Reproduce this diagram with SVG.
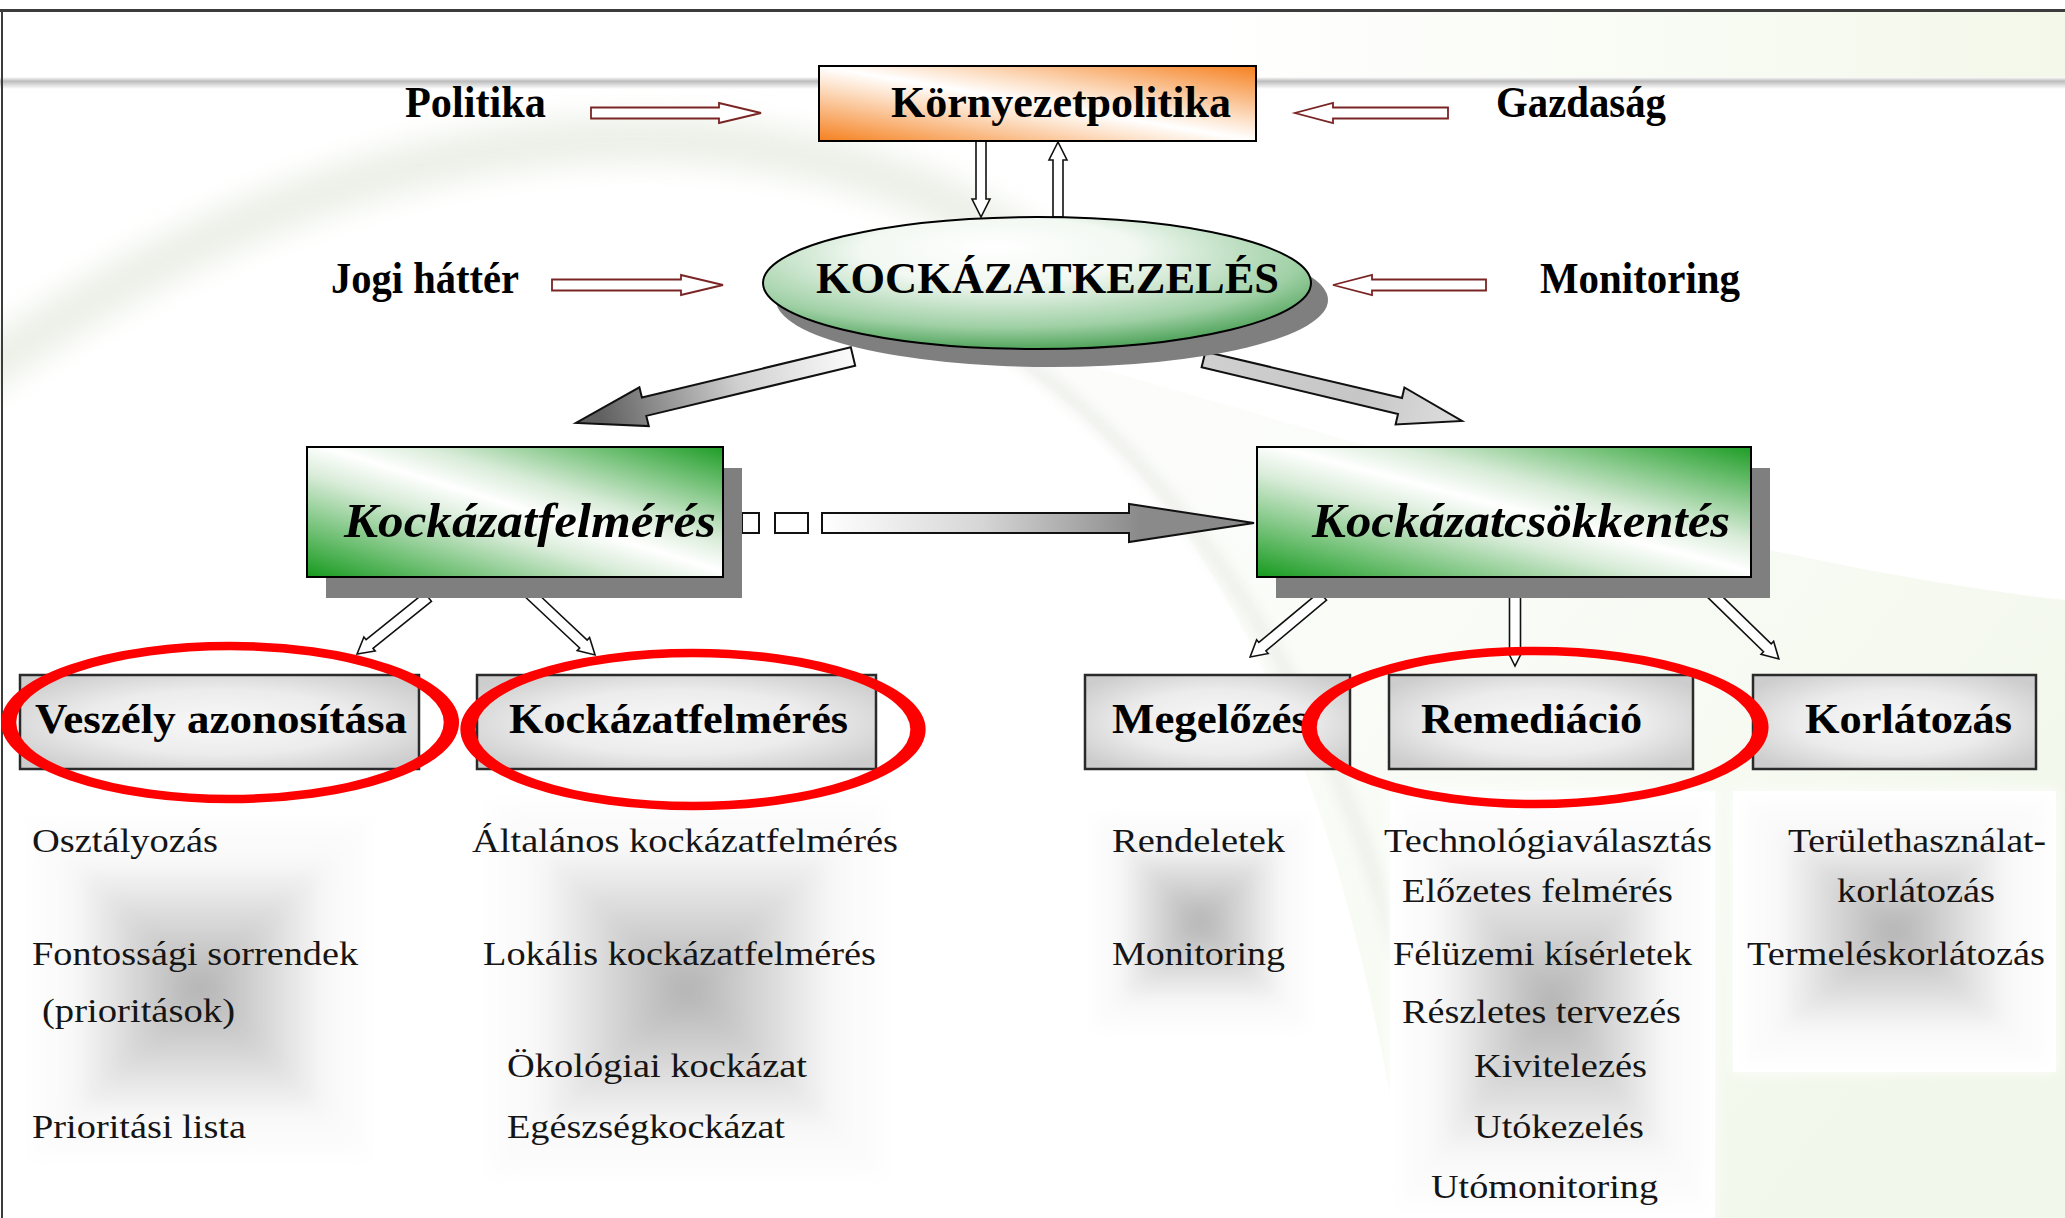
<svg xmlns="http://www.w3.org/2000/svg" width="2065" height="1218" viewBox="0 0 2065 1218">
  <defs>
    <style>
      .hd { font-family: "Liberation Serif", "Times New Roman", serif; font-weight: bold; font-size: 45px; fill: #000; }
      .big { font-family: "Liberation Serif", "Times New Roman", serif; font-weight: bold; font-style: italic; font-size: 48px; fill: #000; }
      .sub { font-family: "Liberation Serif", "Times New Roman", serif; font-weight: bold; font-size: 42px; fill: #000; }
      .li { font-family: "Liberation Serif", "Times New Roman", serif; font-size: 33px; fill: #151515; }
      .frame { stroke: #000; stroke-width: 2; }
      .subbox { fill: url(#gSub); stroke: #2a2a2a; stroke-width: 2.5; }
      .shadow { fill: #7f7f7f; }
      .thin { fill: #fff; stroke: #111; stroke-width: 1.6; stroke-linejoin: miter; }
      .side { fill: #fff; stroke: #7a2424; stroke-width: 1.8; }
      .ring { fill: none; stroke: #ff0000; stroke-width: 8.5; }
      .panel { fill: #fff; }
    </style>
    <linearGradient id="gOrange" x1="0" y1="1" x2="1" y2="0">
      <stop offset="0" stop-color="#f5801f"/>
      <stop offset="0.38" stop-color="#fde3cc"/>
      <stop offset="0.5" stop-color="#ffffff"/>
      <stop offset="0.62" stop-color="#fde3cc"/>
      <stop offset="1" stop-color="#f5801f"/>
    </linearGradient>
    <linearGradient id="gGreen" x1="0" y1="1" x2="1" y2="0">
      <stop offset="0" stop-color="#169a1e"/>
      <stop offset="0.4" stop-color="#d9ecd9"/>
      <stop offset="0.52" stop-color="#ffffff"/>
      <stop offset="0.64" stop-color="#d9ecd9"/>
      <stop offset="1" stop-color="#1e9d26"/>
    </linearGradient>
    <radialGradient id="gOval" cx="0.45" cy="0.32" r="0.72" fx="0.42" fy="0.22">
      <stop offset="0" stop-color="#ffffff"/>
      <stop offset="0.35" stop-color="#f2f8f2"/>
      <stop offset="0.75" stop-color="#9fd0a5"/>
      <stop offset="1" stop-color="#3f9a4b"/>
    </radialGradient>
    <radialGradient id="gSub" cx="0.5" cy="0.5" r="0.62">
      <stop offset="0" stop-color="#f8f8f8"/>
      <stop offset="0.55" stop-color="#ececec"/>
      <stop offset="1" stop-color="#cdcdcd"/>
    </radialGradient>
    <linearGradient id="gPanelT" x1="0" y1="0" x2="0" y2="1">
      <stop offset="0" stop-color="#fff"/>
      <stop offset="0.3" stop-color="#f8f8f8"/>
      <stop offset="1" stop-color="#b3b3b3"/>
    </linearGradient>
    <linearGradient id="gPanelB" x1="0" y1="1" x2="0" y2="0">
      <stop offset="0" stop-color="#fff"/>
      <stop offset="0.3" stop-color="#f8f8f8"/>
      <stop offset="1" stop-color="#b3b3b3"/>
    </linearGradient>
    <linearGradient id="gPanelL" x1="0" y1="0" x2="1" y2="0">
      <stop offset="0" stop-color="#fff"/>
      <stop offset="0.3" stop-color="#f8f8f8"/>
      <stop offset="1" stop-color="#b3b3b3"/>
    </linearGradient>
    <linearGradient id="gPanelR" x1="1" y1="0" x2="0" y2="0">
      <stop offset="0" stop-color="#fff"/>
      <stop offset="0.3" stop-color="#f8f8f8"/>
      <stop offset="1" stop-color="#b3b3b3"/>
    </linearGradient>
    <linearGradient id="gHeadLine" x1="0" y1="0" x2="0" y2="1">
      <stop offset="0" stop-color="#ffffff"/>
      <stop offset="0.35" stop-color="#bcbcbc"/>
      <stop offset="1" stop-color="#ffffff"/>
    </linearGradient>
    <linearGradient id="gHeadTint" x1="0" y1="0" x2="1" y2="0">
      <stop offset="0" stop-color="#ffffff"/>
      <stop offset="1" stop-color="#f3f8ea"/>
    </linearGradient>
    <linearGradient id="gHill" gradientUnits="userSpaceOnUse" x1="1100" y1="500" x2="1900" y2="1150">
      <stop offset="0" stop-color="#fcfdfb"/>
      <stop offset="0.5" stop-color="#f8fbf4"/>
      <stop offset="1" stop-color="#f1f7ea"/>
    </linearGradient>
    <linearGradient id="gLeftArrow" gradientUnits="userSpaceOnUse" x1="853" y1="356" x2="600" y2="418">
      <stop offset="0" stop-color="#fbfbfb"/>
      <stop offset="0.45" stop-color="#d0d0d0"/>
      <stop offset="1" stop-color="#606060"/>
    </linearGradient>
    <linearGradient id="gRightArrow" gradientUnits="userSpaceOnUse" x1="1203" y1="359" x2="1462" y2="421">
      <stop offset="0" stop-color="#d0d0d0"/>
      <stop offset="0.6" stop-color="#c6c6c6"/>
      <stop offset="1" stop-color="#dedede"/>
    </linearGradient>
    <linearGradient id="gStripe" gradientUnits="userSpaceOnUse" x1="822" y1="0" x2="1140" y2="0">
      <stop offset="0" stop-color="#ffffff"/>
      <stop offset="0.5" stop-color="#d6d6d6"/>
      <stop offset="1" stop-color="#8a8a8a"/>
    </linearGradient>
    <filter id="soft" x="-20%" y="-20%" width="140%" height="140%">
      <feGaussianBlur stdDeviation="7"/>
    </filter>
    <filter id="haze" x="-20%" y="-20%" width="140%" height="140%">
      <feGaussianBlur stdDeviation="14"/>
    </filter>
  </defs>

  <!-- page -->
  <rect x="0" y="0" width="2065" height="1218" fill="#fff"/>

  <!-- background swoosh -->
  <g id="background">
    <path d="M960,330 C1150,430 1330,650 1410,1218 L2065,1218 L2065,600 C1700,560 1300,420 960,330 Z" fill="url(#gHill)"/>
    <path d="M-30,380 C150,250 360,150 600,140 C820,132 990,200 1090,300" fill="none" stroke="#e6ebdf" stroke-width="46" opacity="0.75" filter="url(#haze)"/>
    <path d="M1000,345 C1160,450 1320,660 1400,960" fill="none" stroke="#e6e8e2" stroke-width="12" opacity="0.7" filter="url(#soft)"/>
    <rect x="1200" y="12" width="865" height="66" fill="url(#gHeadTint)"/>
    <rect x="0" y="77" width="2065" height="12" fill="url(#gHeadLine)"/>
    <line x1="0" y1="10.5" x2="2065" y2="10.5" stroke="#3c3c3c" stroke-width="3"/>
    <line x1="2" y1="10" x2="2" y2="1218" stroke="#3c3c3c" stroke-width="2"/>
  </g>

  <!-- text panels behind the lists -->
  <g id="panels">
    <rect class="panel" x="21" y="810" width="358" height="358"/>
    <g filter="url(#soft)">
      <polygon points="21,810 379,810 200,989" fill="url(#gPanelT)"/>
      <polygon points="21,1168 379,1168 200,989" fill="url(#gPanelB)"/>
      <polygon points="21,810 21,1168 200,989" fill="url(#gPanelL)"/>
      <polygon points="379,810 379,1168 200,989" fill="url(#gPanelR)"/>
    </g>
    <rect class="panel" x="477" y="790" width="420" height="398"/>
    <g filter="url(#soft)">
      <polygon points="477,790 897,790 687,989" fill="url(#gPanelT)"/>
      <polygon points="477,1188 897,1188 687,989" fill="url(#gPanelB)"/>
      <polygon points="477,790 477,1188 687,989" fill="url(#gPanelL)"/>
      <polygon points="897,790 897,1188 687,989" fill="url(#gPanelR)"/>
    </g>
    <rect class="panel" x="1085" y="808" width="231" height="229"/>
    <g filter="url(#soft)">
      <polygon points="1085,808 1316,808 1200,922" fill="url(#gPanelT)"/>
      <polygon points="1085,1037 1316,1037 1200,922" fill="url(#gPanelB)"/>
      <polygon points="1085,808 1085,1037 1200,922" fill="url(#gPanelL)"/>
      <polygon points="1316,808 1316,1037 1200,922" fill="url(#gPanelR)"/>
    </g>
    <rect class="panel" x="1390" y="791" width="325" height="427"/>
    <g filter="url(#soft)">
      <polygon points="1390,791 1715,791 1552,1004" fill="url(#gPanelT)"/>
      <polygon points="1390,1218 1715,1218 1552,1004" fill="url(#gPanelB)"/>
      <polygon points="1390,791 1390,1218 1552,1004" fill="url(#gPanelL)"/>
      <polygon points="1715,791 1715,1218 1552,1004" fill="url(#gPanelR)"/>
    </g>
    <rect class="panel" x="1733" y="791" width="323" height="281"/>
    <g filter="url(#soft)">
      <polygon points="1733,791 2056,791 1894,931" fill="url(#gPanelT)"/>
      <polygon points="1733,1072 2056,1072 1894,931" fill="url(#gPanelB)"/>
      <polygon points="1733,791 1733,1072 1894,931" fill="url(#gPanelL)"/>
      <polygon points="2056,791 2056,1072 1894,931" fill="url(#gPanelR)"/>
    </g>
  </g>

  <!-- connectors -->
  <g id="connectors">
    <!-- side inputs -->
    <path class="side" transform="translate(591,113)" d="M0,-5.5 H128 V-10 L170,0 L128,10 V5.5 H0 Z"/>
    <path class="side" transform="translate(1448,113) rotate(180)" d="M0,-5.5 H115 V-10 L153,0 L115,10 V5.5 H0 Z"/>
    <path class="side" transform="translate(552,285)" d="M0,-5.5 H129 V-10 L171,0 L129,10 V5.5 H0 Z"/>
    <path class="side" transform="translate(1486,285) rotate(180)" d="M0,-5.5 H114 V-10 L153,0 L114,10 V5.5 H0 Z"/>
    <!-- policy <-> management -->
    <path class="thin" transform="translate(981,141) rotate(90)" d="M0,-5 H58 V-9 L76,0 L58,9 V5 H0 Z"/>
    <path class="thin" transform="translate(1058,217) rotate(-90)" d="M0,-5 H57 V-9 L75,0 L57,9 V5 H0 Z"/>
    <!-- management -> assessment / reduction -->
    <polygon points="850.8,347.3 855.2,365.7 646.3,415.9 648.8,426.1 576,423 639.4,387.3 641.9,397.5" fill="url(#gLeftArrow)" stroke="#111" stroke-width="2"/>
    <polygon points="1205.4,351.7 1201.6,367.3 1398,414 1395.6,424.5 1462,421 1404.4,387.5 1402,398" fill="url(#gRightArrow)" stroke="#111" stroke-width="2"/>
    <!-- striped arrow: assessment -> reduction -->
    <rect x="742" y="513" width="17" height="20" fill="#fff" stroke="#111" stroke-width="2"/>
    <rect x="775" y="513" width="33" height="20" fill="#fff" stroke="#111" stroke-width="2"/>
    <polygon points="822,513 1129,513 1129,504 1254,523 1129,542 1129,533 822,533" fill="url(#gStripe)" stroke="#111" stroke-width="2"/>
    <!-- branches -->
    <path class="thin" transform="translate(428,597) rotate(141.2)" d="M0,-5.5 H75 V-9 L91,0 L75,9 V5.5 H0 Z"/>
    <path class="thin" transform="translate(528,592) rotate(43.2)" d="M0,-5.5 H76 V-9 L92,0 L76,9 V5.5 H0 Z"/>
    <path class="thin" transform="translate(1323,596) rotate(140.1)" d="M0,-5.5 H79 V-9 L95,0 L79,9 V5.5 H0 Z"/>
    <path class="thin" transform="translate(1515,590) rotate(90)" d="M0,-5.5 H60 V-8 L76,0 L60,8 V5.5 H0 Z"/>
    <path class="thin" transform="translate(1710,592) rotate(44.2)" d="M0,-5.5 H80 V-9 L96,0 L80,9 V5.5 H0 Z"/>
  </g>

  <!-- side labels -->
  <g id="label-politika"><text class="hd" x="405" y="117" textLength="141" lengthAdjust="spacingAndGlyphs">Politika</text></g>
  <g id="label-gazdasag"><text class="hd" x="1496" y="117" textLength="170" lengthAdjust="spacingAndGlyphs">Gazdaság</text></g>
  <g id="label-jogi"><text class="hd" x="331" y="293" textLength="188" lengthAdjust="spacingAndGlyphs">Jogi háttér</text></g>
  <g id="label-monitoring"><text class="hd" x="1540" y="293" textLength="200" lengthAdjust="spacingAndGlyphs">Monitoring</text></g>

  <!-- Környezetpolitika -->
  <g id="node-kornyezetpolitika">
    <rect x="819" y="66" width="437" height="75" fill="url(#gOrange)" class="frame"/>
    <text class="hd" x="891" y="117" textLength="340" lengthAdjust="spacingAndGlyphs">Környezetpolitika</text>
  </g>

  <!-- KOCKÁZATKEZELÉS -->
  <g id="node-kockazatkezeles">
    <ellipse class="shadow" cx="1052" cy="300" rx="276" ry="67"/>
    <ellipse cx="1037" cy="283" rx="274" ry="66" fill="url(#gOval)" class="frame"/>
    <text class="hd" x="816" y="293" textLength="463" lengthAdjust="spacingAndGlyphs">KOCKÁZATKEZELÉS</text>
  </g>

  <!-- Kockázatfelmérés -->
  <g id="node-kockazatfelmeres">
    <rect class="shadow" x="326" y="468" width="416" height="130"/>
    <rect x="307" y="447" width="416" height="130" fill="url(#gGreen)" class="frame"/>
    <text class="big" x="344" y="537" textLength="372" lengthAdjust="spacingAndGlyphs">Kockázatfelmérés</text>
  </g>

  <!-- Kockázatcsökkentés -->
  <g id="node-kockazatcsokkentes">
    <rect class="shadow" x="1276" y="468" width="494" height="130"/>
    <rect x="1257" y="447" width="494" height="130" fill="url(#gGreen)" class="frame"/>
    <text class="big" x="1312" y="537" textLength="418" lengthAdjust="spacingAndGlyphs">Kockázatcsökkentés</text>
  </g>

  <!-- second level -->
  <g id="node-veszely">
    <rect class="subbox" x="20" y="675" width="399" height="94"/>
    <text class="sub" x="35" y="733" textLength="372" lengthAdjust="spacingAndGlyphs">Veszély azonosítása</text>
  </g>
  <g id="node-kockazatfelmeres-2">
    <rect class="subbox" x="477" y="675" width="399" height="94"/>
    <text class="sub" x="509" y="733" textLength="339" lengthAdjust="spacingAndGlyphs">Kockázatfelmérés</text>
  </g>
  <g id="node-megelozes">
    <rect class="subbox" x="1085" y="675" width="265" height="94"/>
    <text class="sub" x="1112" y="733" textLength="197" lengthAdjust="spacingAndGlyphs">Megelőzés</text>
  </g>
  <g id="node-remediacio">
    <rect class="subbox" x="1389" y="675" width="304" height="94"/>
    <text class="sub" x="1421" y="733" textLength="221" lengthAdjust="spacingAndGlyphs">Remediáció</text>
  </g>
  <g id="node-korlatozas">
    <rect class="subbox" x="1753" y="675" width="283" height="94"/>
    <text class="sub" x="1805" y="733" textLength="207" lengthAdjust="spacingAndGlyphs">Korlátozás</text>
  </g>

  <!-- lists -->
  <g id="list-veszely">
    <text class="li" x="32" y="852" textLength="186" lengthAdjust="spacingAndGlyphs">Osztályozás</text>
    <text class="li" x="32" y="965" textLength="326" lengthAdjust="spacingAndGlyphs">Fontossági sorrendek</text>
    <text class="li" x="42" y="1022" textLength="193" lengthAdjust="spacingAndGlyphs">(prioritások)</text>
    <text class="li" x="32" y="1138" textLength="214" lengthAdjust="spacingAndGlyphs">Prioritási lista</text>
  </g>
  <g id="list-kockazatfelmeres">
    <text class="li" x="472" y="852" textLength="426" lengthAdjust="spacingAndGlyphs">Általános kockázatfelmérés</text>
    <text class="li" x="483" y="965" textLength="393" lengthAdjust="spacingAndGlyphs">Lokális kockázatfelmérés</text>
    <text class="li" x="507" y="1077" textLength="300" lengthAdjust="spacingAndGlyphs">Ökológiai kockázat</text>
    <text class="li" x="507" y="1138" textLength="278" lengthAdjust="spacingAndGlyphs">Egészségkockázat</text>
  </g>
  <g id="list-megelozes">
    <text class="li" x="1112" y="852" textLength="173" lengthAdjust="spacingAndGlyphs">Rendeletek</text>
    <text class="li" x="1112" y="965" textLength="173" lengthAdjust="spacingAndGlyphs">Monitoring</text>
  </g>
  <g id="list-remediacio">
    <text class="li" x="1384" y="852" textLength="328" lengthAdjust="spacingAndGlyphs">Technológiaválasztás</text>
    <text class="li" x="1402" y="902" textLength="271" lengthAdjust="spacingAndGlyphs">Előzetes felmérés</text>
    <text class="li" x="1393" y="965" textLength="299" lengthAdjust="spacingAndGlyphs">Félüzemi kísérletek</text>
    <text class="li" x="1402" y="1023" textLength="279" lengthAdjust="spacingAndGlyphs">Részletes tervezés</text>
    <text class="li" x="1474" y="1077" textLength="173" lengthAdjust="spacingAndGlyphs">Kivitelezés</text>
    <text class="li" x="1474" y="1138" textLength="170" lengthAdjust="spacingAndGlyphs">Utókezelés</text>
    <text class="li" x="1431" y="1198" textLength="227" lengthAdjust="spacingAndGlyphs">Utómonitoring</text>
  </g>
  <g id="list-korlatozas">
    <text class="li" x="1788" y="852" textLength="258" lengthAdjust="spacingAndGlyphs">Területhasználat-</text>
    <text class="li" x="1837" y="902" textLength="158" lengthAdjust="spacingAndGlyphs">korlátozás</text>
    <text class="li" x="1747" y="965" textLength="298" lengthAdjust="spacingAndGlyphs">Termeléskorlátozás</text>
  </g>

  <!-- red highlight rings -->
  <g id="highlights">
    <ellipse class="ring" cx="0" cy="0" rx="123" ry="76.5" transform="translate(230,722.5) scale(1.8,1)"/>
    <ellipse class="ring" cx="0" cy="0" rx="125" ry="76.5" transform="translate(693,729.5) scale(1.8,1)"/>
    <ellipse class="ring" cx="0" cy="0" rx="125.5" ry="76.5" transform="translate(1535,727.5) scale(1.8,1)"/>
  </g>
</svg>
